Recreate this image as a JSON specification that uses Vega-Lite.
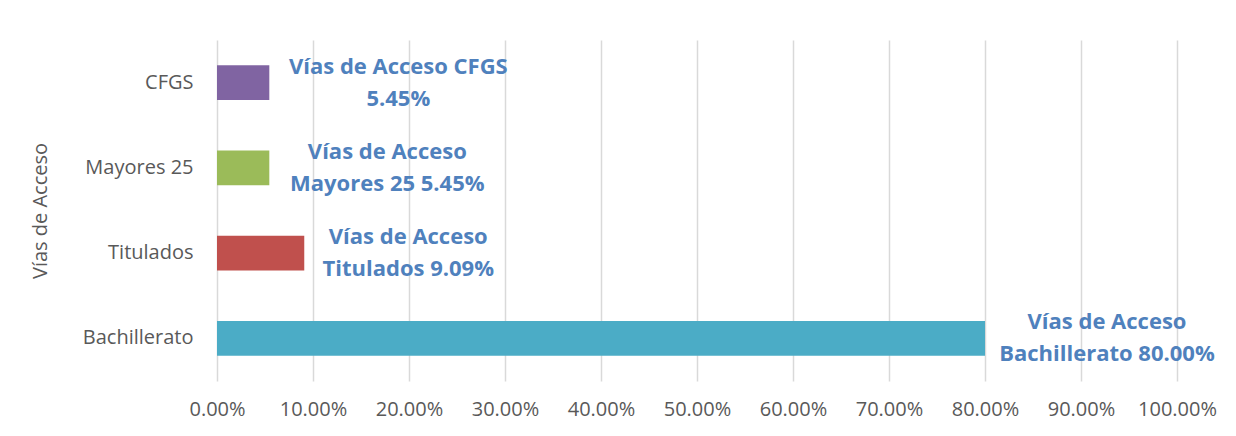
{
  "$schema": "https://vega.github.io/schema/vega-lite/v6.json",
  "width": 960,
  "height": 341,
  "autosize": {"type": "none"},
  "padding": {"left": 217, "top": 40, "right": 59, "bottom": 55},
  "background": "white",
  "config": {
    "view": {"stroke": null},
    "font": "Open Sans",
    "axis": {"labelFont": "Open Sans", "titleFont": "Open Sans"}
  },
  "data": {
    "values": [
      {"via": "CFGS", "pct": 5.45, "label": "Vías de Acceso CFGS\n5.45%"},
      {"via": "Mayores 25", "pct": 5.45, "label": "Vías de Acceso\nMayores 25 5.45%"},
      {"via": "Titulados", "pct": 9.09, "label": "Vías de Acceso\nTitulados 9.09%"},
      {"via": "Bachillerato", "pct": 80.0, "label": "Vías de Acceso\nBachillerato 80.00%"}
    ]
  },
  "encoding": {
    "y": {
      "field": "via",
      "type": "nominal",
      "sort": null,
      "scale": {"paddingInner": 0.59, "paddingOuter": 0.295},
      "axis": {
        "title": "Vías de Acceso",
        "titleFontSize": 20,
        "titleFontWeight": "normal",
        "titleColor": "#595959",
        "titleX": -177,
        "titleY": 170.5,
        "titleAngle": -90,
        "titleAlign": "center",
        "titleBaseline": "middle",
        "labelFontSize": 20,
        "labelColor": "#595959",
        "labelPadding": 24,
        "ticks": false,
        "domain": false,
        "grid": false
      }
    }
  },
  "layer": [
    {
      "mark": {"type": "bar"},
      "encoding": {
        "x": {
          "field": "pct",
          "type": "quantitative",
          "scale": {"domain": [0, 100], "nice": false},
          "axis": {
            "title": null,
            "values": [0, 10, 20, 30, 40, 50, 60, 70, 80, 90, 100],
            "labelExpr": "format(datum.value, '.2f') + '%'",
            "labelFontSize": 20,
            "labelColor": "#595959",
            "labelPadding": 18,
            "labelFlush": false,
            "labelOverlap": false,
            "ticks": false,
            "domain": false,
            "grid": true,
            "gridColor": "#D9D9D9",
            "gridWidth": 1.5
          }
        },
        "color": {
          "field": "via",
          "type": "nominal",
          "scale": {
            "domain": ["CFGS", "Mayores 25", "Titulados", "Bachillerato"],
            "range": ["#8064A2", "#9BBB59", "#C0504D", "#4BACC6"]
          },
          "legend": null
        }
      }
    },
    {
      "transform": [{"filter": "datum.via === 'CFGS'"}],
      "mark": {"type": "text", "align": "center", "baseline": "middle", "dx": 129, "dy": -16, "fontSize": 22, "fontWeight": "bold", "color": "#4F81BD", "lineBreak": "\n", "lineHeight": 32},
      "encoding": {"x": {"field": "pct", "type": "quantitative"}, "text": {"field": "label"}}
    },
    {
      "transform": [{"filter": "datum.via === 'Mayores 25'"}],
      "mark": {"type": "text", "align": "center", "baseline": "middle", "dx": 118, "dy": -16, "fontSize": 22, "fontWeight": "bold", "color": "#4F81BD", "lineBreak": "\n", "lineHeight": 32},
      "encoding": {"x": {"field": "pct", "type": "quantitative"}, "text": {"field": "label"}}
    },
    {
      "transform": [{"filter": "datum.via === 'Titulados'"}],
      "mark": {"type": "text", "align": "center", "baseline": "middle", "dx": 104, "dy": -16, "fontSize": 22, "fontWeight": "bold", "color": "#4F81BD", "lineBreak": "\n", "lineHeight": 32},
      "encoding": {"x": {"field": "pct", "type": "quantitative"}, "text": {"field": "label"}}
    },
    {
      "transform": [{"filter": "datum.via === 'Bachillerato'"}],
      "mark": {"type": "text", "align": "center", "baseline": "middle", "dx": 122, "dy": -16, "fontSize": 22, "fontWeight": "bold", "color": "#4F81BD", "lineBreak": "\n", "lineHeight": 32},
      "encoding": {"x": {"field": "pct", "type": "quantitative"}, "text": {"field": "label"}}
    }
  ]
}
